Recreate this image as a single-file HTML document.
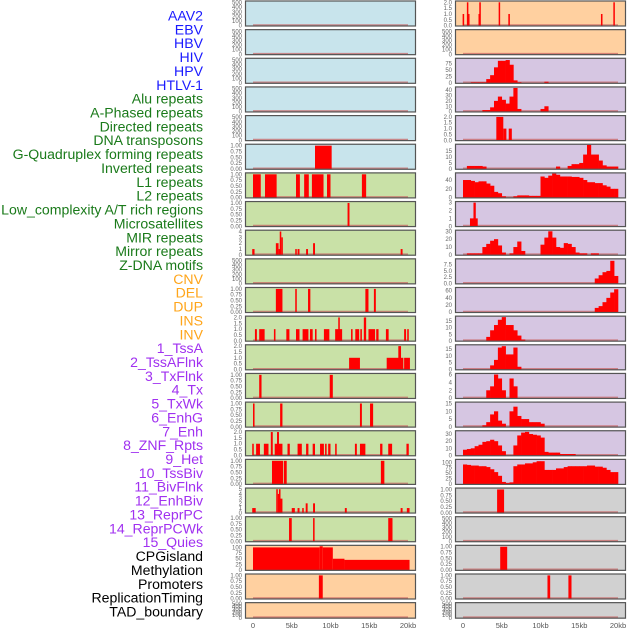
<!DOCTYPE html>
<html><head><meta charset="utf-8">
<style>
html,body{margin:0;padding:0;background:#fff;}
body{width:630px;height:630px;overflow:hidden;font-family:"Liberation Sans",sans-serif;}
svg text{font-family:"Liberation Sans",sans-serif;}
</style></head>
<body>
<svg id="chart" width="630" height="630" viewBox="0 0 630 630" xmlns="http://www.w3.org/2000/svg"></svg>
<script>
const trackLabels = ["AAV2","EBV","HBV","HIV","HPV","HTLV-1","Alu repeats","A-Phased repeats","Directed repeats","DNA transposons","G-Quadruplex forming repeats","Inverted repeats","L1 repeats","L2 repeats","Low_complexity A/T rich regions","Microsatellites","MIR repeats","Mirror repeats","Z-DNA motifs","CNV","DEL","DUP","INS","INV","1_TssA","2_TssAFlnk","3_TxFlnk","4_Tx","5_TxWk","6_EnhG","7_Enh","8_ZNF_Rpts","9_Het","10_TssBiv","11_BivFlnk","12_EnhBiv","13_ReprPC","14_ReprPCWk","15_Quies","CPGisland","Methylation","Promoters","ReplicationTiming","TAD_boundary"];
const trackGroups = ["v","v","v","v","v","v","r","r","r","r","r","r","r","r","r","r","r","r","r","s","s","s","s","s","c","c","c","c","c","c","c","c","c","c","c","c","c","c","c","o","o","o","o","o"];
const xTickValues = [0,5,10,15,20];
const xTickLabels = ["0","5kb","10kb","15kb","20kb"];
const T1 = ["0.00","0.25","0.50","0.75","1.00"];
const T2 = ["0.0","0.5","1.0","1.5","2.0"];
const TE = ["0","100","200","300","400","500"];
const panelYmax = [520,520,520,520,520,1.03,1.03,1.03,4.1,520,1.03,2.05,2.05,1.03,1.03,2.05,1.03,5.1,1.03,106,1.03,520,
  2.05,520,92,44.6,2.05,20,54.6,3.05,30.5,9.5,67,18.2,17.5,6.1,15.5,33.6,110,1.03,520,1.03,1.03,520];
const panelTicks = [TE,TE,TE,TE,TE,T1,T1,T1,["0","1","2","3","4"],TE,T1,T2,T2,T1,T1,T2,T1,["0","1","2","3","4","5"],T1,["0","25","50","75","100"],T1,TE,
  T2,TE,["0","25","50","75"],["0","10","20","30","40"],T2,["0","5","10","15"],["0","20","40"],["0","1","2","3"],["0","10","20","30"],["0.0","2.5","5.0","7.5"],["0","20","40","60"],["0","5","10","15"],["0","5","10","15"],["0","2","4","6"],["0","5","10","15"],["0","10","20","30"],["0","25","50","75","100"],T1,TE,T1,T1,TE];
// intervals [startKb, endKb, value]
const panelSegments = {
 5:[[8.0,10.15,1]],
 6:[[0,1.0,1],[1.55,3.05,1],[5.55,6.05,1],[6.6,7.2,1],[7.6,9.1,1],[9.55,10.0,1],[14.05,14.6,1]],
 7:[[12.2,12.45,1]],
 8:[[-0.1,0.2,1],[2.95,3.3,2],[3.3,3.45,1],[3.45,3.65,4],[3.65,3.85,3],[5.45,5.65,1],[5.75,6.0,1],[6.85,7.1,1],[7.75,8.0,2],[19.05,19.3,1]],
 10:[[2.95,3.8,1],[5.45,5.65,1],[7.1,7.4,1],[14.5,14.9,1],[15.6,15.85,1]],
 11:[[0.25,0.5,1],[0.8,1.5,1],[2.7,2.9,1],[4.3,4.7,1],[5.55,6.0,1],[6.4,7.15,1],[7.35,7.7,1],[8.0,8.2,1],[9.15,9.85,1],[10.6,11.5,1],[11.0,11.2,2],[12.65,12.85,1],[13.2,13.7,1],[13.85,14.05,1],[14.3,14.6,2],[14.9,15.75,1],[15.9,16.2,1],[17.15,17.5,1],[19.5,19.75,1],[19.9,20.1,1]],
 12:[[12.4,13.8,1],[17.25,19.4,1],[18.75,19.1,2],[19.5,20.25,1]],
 13:[[0.8,1.1,1],[9.9,10.3,1]],
 14:[[0,0.2,1],[3.5,3.8,1],[13.8,14.05,1],[15.1,15.5,1]],
 15:[[-0.1,0.1,1],[0.4,0.9,1],[1.4,2.0,1],[2.3,2.55,2],[2.8,3.8,1],[3.1,3.35,2],[4.45,4.75,1],[5.75,6.3,1],[6.85,7.15,1],[7.7,8.0,1],[8.65,9.15,1],[9.3,9.5,1],[9.7,10.0,1],[10.6,10.8,1],[13.15,13.4,1],[13.8,14.5,1],[16.4,16.7,1],[17.45,17.95,1],[19.8,20.1,1]],
 16:[[2.45,3.9,1],[4.0,4.35,1],[16.5,16.95,1]],
 17:[[-0.1,0.35,1],[3.0,3.2,5],[3.2,3.35,4],[3.35,3.55,5],[3.55,3.8,3],[5.0,5.4,1],[5.75,6.0,1],[6.35,6.55,1],[6.8,7.05,2],[7.75,8.0,2],[11.85,12.1,1],[19.05,19.3,1],[19.85,20.2,1]],
 18:[[4.65,5.0,1],[7.75,7.95,1],[17.45,18.0,1]],
 19:[[0,8.6,100],[8.6,9.0,105],[9.0,10.3,100],[10.3,11.8,50],[11.8,20.2,45]],
 20:[[8.5,9.0,1]],
 22:[[-0.05,0.15,1],[0.5,0.65,2],[0.65,0.8,1],[2.1,2.3,2],[2.0,2.1,1],[4.6,4.75,2],[5.85,6.05,1],[17.8,18.0,1],[19.4,19.55,2]],
 26:[[4.3,5.2,2],[5.2,5.6,1],[5.9,6.3,1]],
 29:[[0.9,1.9,1],[1.35,1.65,3]],
 39:[[4.4,5.3,1]],
 41:[[4.8,5.7,1]],
 42:[[10.9,11.25,1],[13.6,14.0,1]]
};
// 0.5kb bins (40 bins, 0-20kb)
const panelBins = {
 24:[0,0,3,3,3,3,15,30,60,85,85,88,70,10,3,0,0,0,0,0,0,5,0,0,0,0,0,0,0,0,0,0,0,0,0,0,0,0,0,0],
 25:[0,0,0,0,0,3,3,8,20,28,22,15,28,44,5,0,0,0,0,0,5,10,0,0,0,0,0,0,0,0,0,0,0,0,0,0,0,0,0,0],
 27:[0,2.5,2.5,2.5,2.5,2,0,0,0,0,0,0,0,0,0,0,0,0,0,0,0,0,0,0,2,0,0,2.5,4,4,5,12,20,12,12,7,3,2,2,2],
 28:[40,40,38,35,37,37,32,27,13,10,3,0,0,3,5,5,5,4,4,4,48,45,50,55,52,48,48,48,47,47,45,40,35,35,33,33,28,25,20,20],
 30:[0,2,2,2,2,10,14,18,20,12,3,0,2,10,17,5,0,0,0,0,13,22,30,22,10,9,15,14,10,3,2,2,0,2,2,0,0,0,0,0],
 31:[0,0,0,0,0,0,0,0,0,0,0,0,0,0,0,0,0,0,0,0,0,0,0,0,0,0,0,0,0,0,0,0,0,0,2,3.3,4.5,5,9,3],
 32:[0,0,0,0,0,0,0,0,0,0,0,0,0,0,0,0,0,0,0,0,0,0,0,0,0,0,0,0,0,0,0,0,0,0,12,17,28,40,55,64],
 33:[0,0,0,0,0,0,3,8,12,16,18,12,12,8,4,1,0,0,0,0,0,0,0,0,0,0,0,0,0,0,0,0,0,0,0,0,0,0,0,0],
 34:[0,0,0,0,0,0,0,3,7,16,17,11,11,16,2,0,0,0,0,0,0,0,0,0,0,0,0,0,0,0,0,0,0,0,0,0,0,0,0,0],
 35:[0,0,0,0,0,0,2,3,6,5,2,0,5,3,0,0,0,0,0,0,0,0,0,0,0,0,0,0,0,0,0,0,0,0,0,0,0,0,0,0],
 36:[0,0,0,0,0,1,3,8,10,4,2,0,10,13,7,5,5,3,3,3,2,0,0,0,0,0,0,0,0,0,0,0,0,0,0,0,0,0,0,0],
 37:[8,9,10,13,15,19,20,22,20,14,6,0,0,14,28,32,33,30,29,28,25,5,4,4,4,2,2,2,2,0,0,0,0,0,0,0,0,0,0,0],
 38:[90,88,85,85,82,82,78,68,55,38,10,5,8,82,90,90,95,95,100,105,105,65,65,65,72,72,78,82,82,82,82,82,85,85,80,80,75,65,55,55]
};
const groupBg = {v:"#c8e4ec",r:"#c9e1a7",s:"#ffd0a0",c:"#d6c6e2",o:"#d1d1d1"};
const labelColors = {v:"#1a1aff",r:"#1a7a1a",s:"#ffa51a",c:"#a030f0",o:"#000"};

const svg = document.getElementById('chart');
const NS = "http://www.w3.org/2000/svg";
function mk(tag, attrs, parent){const e=document.createElementNS(NS,tag);for(const k in attrs)e.setAttribute(k,attrs[k]);(parent||svg).appendChild(e);return e;}

trackLabels.forEach((t,i)=>{
  const el = mk('text',{x:203,y:20.5+i*13.86,'text-anchor':'end','font-size':14.1,fill:labelColors[trackGroups[i]]});
  el.textContent = t;
  
  
});

const colX = [245,455], panelW = 171, rowH = 28.65;
function xScale(col, kb){ return colX[col] + 8 + kb*(155/20); }

for(let p=0;p<44;p++){
  const col = p<22?0:1, row = p%22;
  const top = 0.5 + row*rowH;
  const panelH = row===21 ? 16.5 : 26;
  const g = mk('g',{});
  
  
  const bg = mk('rect',{x:colX[col],y:top,width:panelW,height:panelH,fill:groupBg[trackGroups[p]]},g);
  
  
  const ymax = panelYmax[p];
  const y0 = top+panelH-0.8, yh = panelH-2;
  const yScale = v => y0 - Math.min(v,ymax)/ymax*yh;
  mk('line',{x1:xScale(col,0),x2:xScale(col,20),y1:y0-0.5,y2:y0-0.5,stroke:"#c86060",'stroke-width':2,opacity:0.7},g);
  (panelSegments[p]||[]).forEach(s=>{
    const x1=xScale(col,s[0]), x2=xScale(col,s[1]);
    const r = mk('rect',{x:x1,y:yScale(s[2]),width:Math.max(1.5,x2-x1),height:y0-yScale(s[2]),fill:"#ff0000"},g);
    
    
  });
  const bins = panelBins[p];
  if(bins){ bins.forEach((v,i)=>{ if(v<=0) return;
    const x1=xScale(col,i*0.5), x2=xScale(col,(i+1)*0.5);
    const r = mk('rect',{x:x1,y:yScale(v),width:x2-x1+0.3,height:y0-yScale(v),fill:"#ff0000"},g);
    
    
  }); }
  mk('rect',{x:colX[col]+0.5,y:top+0.5,width:panelW-1,height:panelH-1,fill:"none",stroke:"#555",'stroke-width':1.2},g);
  panelTicks[p].forEach(t=>{
    const v=parseFloat(t);
    const tx = mk('text',{x:colX[col]-3,y:yScale(v)+2,'text-anchor':'end','font-size':6,fill:"#666"},g);
    tx.textContent=t;
    
    
  });
}
[0,1].forEach(col=>{
  xTickValues.forEach((v,i)=>{
    const t = mk('text',{x:xScale(col,v),y:628,'text-anchor':'middle','font-size':7.5,fill:"#555"});
    t.textContent = xTickLabels[i];
    
    
  });
});
</script>
</body></html>
